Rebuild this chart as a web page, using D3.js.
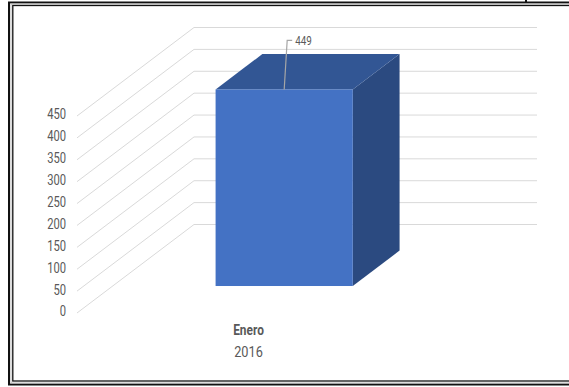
<!DOCTYPE html>
<html><head><meta charset="utf-8">
<script src="https://cdn.jsdelivr.net/npm/d3@7"></script>
<style>html,body{margin:0;padding:0;background:#fff;}svg{display:block;}</style>
</head><body>
<svg id="c" width="569" height="387"></svg>
<script>
const categories = ["Enero"];
const groupLabels = ["2016"];
const values = [449];
const yTicks = [0, 50, 100, 150, 200, 250, 300, 350, 400, 450];

const svg = d3.select("#c");
const FONT = "Roboto,'Liberation Sans',sans-serif";

// frame
svg.append("rect").attr("x", 9).attr("y", 2.5).attr("width", 600).attr("height", 382)
  .attr("fill", "none").attr("stroke", "#111").attr("stroke-width", 2);
svg.append("rect").attr("x", 11).attr("y", 4).attr("width", 600).attr("height", 379)
  .attr("fill", "none").attr("stroke", "#bbb").attr("stroke-width", 1);
svg.append("rect").attr("x", 12.8).attr("y", 5.5).attr("width", 600).attr("height", 375.5)
  .attr("fill", "none").attr("stroke", "#111").attr("stroke-width", 1.3);
svg.append("line").attr("x1", 526).attr("x2", 526).attr("y1", 0).attr("y2", 3)
  .attr("stroke", "#111").attr("stroke-width", 2);

// 3D projection
const depthX = 117, depthY = -88.5;
const y = d3.scaleLinear().domain([0, 450]).range([313, 116]);
const x = d3.scaleBand().domain(categories).range([77, 420]);
const proj = (px, py, d) => [px + depthX * d, py + depthY * d];

// condensed text helper
function ctext(g, px, py, str, size, sx, anchor, weight) {
  return g.append("text")
    .attr("transform", `translate(${px},${py}) scale(${sx},1)`)
    .attr("text-anchor", anchor).attr("dominant-baseline", "central")
    .attr("font-family", FONT).attr("font-size", size)
    .attr("font-weight", weight || "normal").attr("fill", "#595959").text(str);
}

// gridlines
const grid = svg.append("g").attr("stroke", "#d9d9d9").attr("stroke-width", 1).attr("fill", "none");
yTicks.forEach(t => {
  const a = proj(77, y(t), 0), b = proj(77, y(t), 1), c = proj(420, y(t), 1);
  grid.append("path").attr("d", d3.line()([a, b, c]));
});

// tick labels
const tg = svg.append("g");
yTicks.forEach(t => ctext(tg, 66, y(t) - 1.5, t, 14, 0.8, "end"));

// bars
const d0 = 0.305, d1 = 0.705;
categories.forEach((cat, i) => {
  const cx = x(cat) + x.bandwidth() / 2;
  const bw = x.bandwidth() * 0.4;
  const xl = cx - bw / 2, xr = cx + bw / 2;
  const yb = y(0), yt = y(values[i]);
  const P = proj;
  const line = d3.line();
  svg.append("path").attr("d", line([P(xr, yt, d0), P(xr, yt, d1), P(xr, yb, d1), P(xr, yb, d0)]) + "Z")
    .attr("fill", "#2b4a80");
  svg.append("path").attr("d", line([P(xl, yt, d0), P(xl, yt, d1), P(xr, yt, d1), P(xr, yt, d0)]) + "Z")
    .attr("fill", "#325694");
  const f0 = P(xl, yt, d0), f1 = P(xr, yb, d0);
  svg.append("rect").attr("x", f0[0]).attr("y", f0[1]).attr("width", f1[0] - f0[0]).attr("height", f1[1] - f0[1])
    .attr("fill", "#4472c4");

  const anchor = P(cx, yt, d0);
  const lx = anchor[0] + 3, ly = anchor[1] - 49;
  svg.append("path").attr("d", line([[anchor[0], anchor[1]], [lx, ly], [lx + 5, ly]]))
    .attr("fill", "none").attr("stroke", "#a6a6a6").attr("stroke-width", 1.2);
  ctext(svg, lx + 8, ly + 1, values[i], 12, 0.82, "start");

  ctext(svg, cx, 330, cat, 14, 0.85, "middle", "bold");
  ctext(svg, cx, 352, groupLabels[i], 15, 0.85, "middle");
});
</script>
</body></html>
